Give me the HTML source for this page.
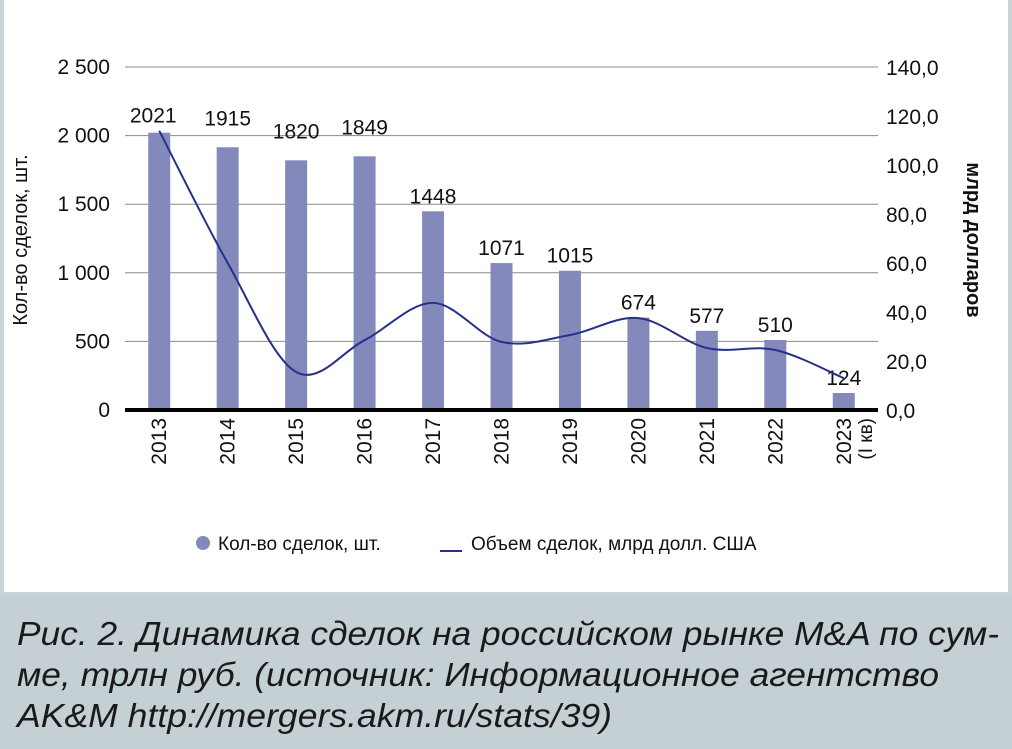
<!DOCTYPE html>
<html><head><meta charset="utf-8">
<style>
html,body{margin:0;padding:0;background:#fff}
#wrap{position:relative;width:1012px;height:749px;overflow:hidden;background:#c5d0d4}
#panel{position:absolute;left:0;top:0;width:1004px;height:592px;background:#fff;border:4px solid #c9d3d6;border-top:0;}
svg{position:absolute;left:0;top:0}
text{font-family:"Liberation Sans","DejaVu Sans",sans-serif}
</style></head>
<body>
<div id="wrap">
<div id="panel"></div>
<svg id="chart" width="1012" height="749"></svg>
</div>
<script>
const categories=["2013","2014","2015","2016","2017","2018","2019","2020","2021","2022","2023"];
const dealCounts=[2021,1915,1820,1849,1448,1071,1015,674,577,510,124];
const dealVolumes=[114,60,15.5,28.5,43.7,27.8,30.6,37.5,25.3,24.5,13];
const leftTicks=[0,500,1000,1500,2000,2500];
const leftTickLabels=["0","500","1 000","1 500","2 000","2 500"];
const rightTicks=[0,20,40,60,80,100,120,140];
const rightTickLabels=["0,0","20,0","40,0","60,0","80,0","100,0","120,0","140,0"];

const svg=document.getElementById('chart');
const NS='http://www.w3.org/2000/svg';
const X0=125,X1=878,Y0=410,Y1=67;
const step=(X1-X0)/categories.length;
const xC=i=>X0+step*(i+0.5);
const yL=v=>Y0-(v/2500)*(Y0-Y1);
const yR=v=>Y0-(v/140)*(Y0-Y1);
function mk(tag,attrs,txt){const e=document.createElementNS(NS,tag);for(const k in attrs)e.setAttribute(k,attrs[k]);if(txt!==undefined)e.textContent=txt;svg.appendChild(e);return e;}

leftTicks.forEach((t,i)=>{
  if(t>0){const g=mk('line',{x1:X0,x2:X1,y1:yL(t),y2:yL(t),stroke:'#8a8a8a','stroke-width':1});
  }
  const l=mk('text',{x:110,y:yL(t)+7,'text-anchor':'end','font-size':21,fill:'#111'},leftTickLabels[i]);
  
});
rightTicks.forEach((t,i)=>{
  const l=mk('text',{x:886,y:yR(t)+8,'font-size':21,fill:'#111'},rightTickLabels[i]);
  
});
dealCounts.forEach((v,i)=>{
  const b=mk('rect',{x:xC(i)-11,y:yL(v),width:22,height:Y0-yL(v),fill:'#8489bc'});
  
  const t=mk('text',{x:xC(i)+(i===0?-6:0),y:yL(v)-(i===0?10:(i<4?10:8))-(i===1||i===2||i===3?12:0)+(i===0?0:0),'text-anchor':'middle','font-size':21,fill:'#111'},String(v));
  
});
const ax=mk('line',{x1:X0,x2:X1,y1:Y0,y2:Y0,stroke:'#000','stroke-width':4});

// smooth line (catmull-rom)
const pts=dealVolumes.map((v,i)=>[xC(i),yR(v)]);
let d='M'+pts[0][0]+','+pts[0][1];
for(let i=0;i<pts.length-1;i++){
  const p0=pts[Math.max(0,i-1)],p1=pts[i],p2=pts[i+1],p3=pts[Math.min(pts.length-1,i+2)];
  const c1=[p1[0]+(p2[0]-p0[0])/6,p1[1]+(p2[1]-p0[1])/6];
  const c2=[p2[0]-(p3[0]-p1[0])/6,p2[1]-(p3[1]-p1[1])/6];
  d+=' C'+c1[0]+','+c1[1]+' '+c2[0]+','+c2[1]+' '+p2[0]+','+p2[1];
}
const ln=mk('path',{d:d,fill:'none',stroke:'#26318a','stroke-width':2});

categories.forEach((c,i)=>{
  const t=mk('text',{transform:'translate('+(xC(i)+7)+',418) rotate(-90)','text-anchor':'end','font-size':21,fill:'#111'},c);
  
});
const q=mk('text',{transform:'translate('+(xC(10)+28)+',418) rotate(-90)','text-anchor':'end','font-size':19,fill:'#111'},'(I кв)');

const lt=mk('text',{transform:'translate(27,240) rotate(-90)','text-anchor':'middle','font-size':20,fill:'#111'},'Кол-во сделок, шт.');

const rt=mk('text',{transform:'translate(967,240) rotate(90)','text-anchor':'middle','font-size':20,'font-weight':'bold',fill:'#111'},'млрд долларов');

const lg1=mk('circle',{cx:203,cy:543,r:7,fill:'#8489bc'});

const lg1t=mk('text',{x:218,y:550,'font-size':19,fill:'#111'},'Кол-во сделок, шт.');

const lg2=mk('line',{x1:440,x2:462,y1:551,y2:551,stroke:'#26318a','stroke-width':2});

const lg2t=mk('text',{x:471,y:550,'font-size':19,fill:'#111'},'Объем сделок, млрд долл. США');

const caps=["Рис. 2. Динамика сделок на российском рынке M&A по сум-","ме, трлн руб. (источник: Информационное агентство","AK&M http://mergers.akm.ru/stats/39)"];
const capW=[982,922,595];
caps.forEach((c,i)=>{
  const t=mk('text',{x:17,y:645+i*41,'font-size':33,'font-style':'italic',fill:'#1a1a1a',textLength:capW[i],lengthAdjust:'spacingAndGlyphs'},c);
  
});
</script>
</body></html>
